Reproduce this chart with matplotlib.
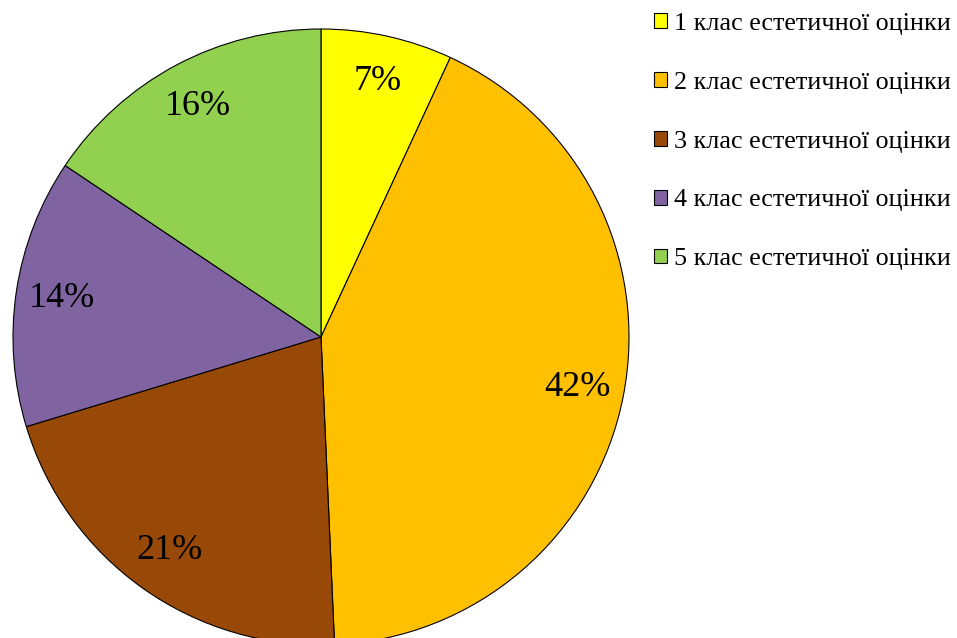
import matplotlib.pyplot as plt

plt.rcParams['font.family'] = ['Liberation Serif', 'DejaVu Serif']

labels = ['1 клас естетичної оцінки', '2 клас естетичної оцінки', '3 клас естетичної оцінки',
          '4 клас естетичної оцінки', '5 клас естетичної оцінки']
shares = [6.9, 42.4, 21.0, 14.1, 15.6]
colors = ['#FFFF00', '#FFC000', '#984807', '#8064A2', '#92D050']

fig = plt.figure(figsize=(9.57, 6.38), dpi=100)
ax = fig.add_axes([0, 0, 1, 1])

# pie radius 1 -> 308 px, centre at (321, 337) px
wedges, _, autotexts = ax.pie(shares, colors=colors, startangle=90, counterclock=False,
                              autopct='%.0f%%', pctdistance=0.85, radius=1,
                              wedgeprops=dict(edgecolor='black', linewidth=0.8),
                              textprops=dict(fontsize=26, color='black'))
ax.set_xlim(-321 / 308, (957 - 321) / 308)
ax.set_ylim(-(638 - 337) / 308, 337 / 308)
ax.set_aspect('auto')
ax.axis('off')

fig.legend(wedges, labels, loc='upper left', bbox_to_anchor=(0.672, 0.996),
           frameon=False, fontsize=18.8, handlelength=0.5, handleheight=0.5,
           handletextpad=0.3, labelspacing=1.41, borderaxespad=0)

fig.savefig('out.png', dpi=100)
